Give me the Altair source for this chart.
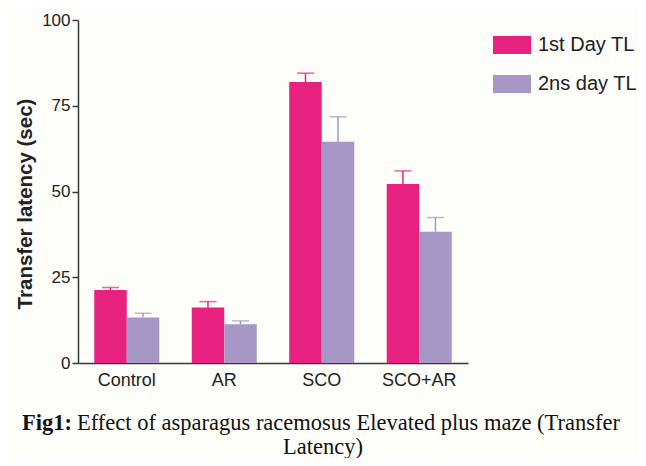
import altair as alt
import pandas as pd

groups = ["Control", "AR", "SCO", "SCO+AR"]
series = ["1st Day TL", "2ns day TL"]
day1 = [21.3, 16.2, 81.9, 52.2]
day1_err = [22.0, 17.9, 84.5, 56.0]
day2 = [13.3, 11.3, 64.5, 38.3]
day2_err = [14.5, 12.3, 71.8, 42.4]
colors = ["#e6217f", "#a797c6"]

rows = []
for i, g in enumerate(groups):
    rows.append({"group": g, "series": series[0], "value": day1[i], "err": day1_err[i]})
    rows.append({"group": g, "series": series[1], "value": day2[i], "err": day2_err[i]})
df = pd.DataFrame(rows)

xenc = alt.X("group:N", sort=groups, title=None,
             scale=alt.Scale(paddingInner=0.333, paddingOuter=0.167),
             axis=alt.Axis(labelAngle=0, labelFontSize=18, labelFont="Liberation Sans",
                           labelColor="#222", ticks=False, domainColor="#3a3a3a",
                           domainWidth=1.5, labelPadding=8))
xoff = alt.XOffset("series:N", sort=series, scale=alt.Scale(paddingInner=0, paddingOuter=0))
yscale = alt.Scale(domain=[0, 100], nice=False)
color = alt.Color("series:N", sort=series, scale=alt.Scale(domain=series, range=colors),
                  legend=alt.Legend(title=None, orient="none", legendX=415, legendY=6,
                                    symbolType="M-1,-0.47L1,-0.47L1,0.47L-1,0.47Z",
                                    symbolSize=1444, symbolStrokeWidth=0,
                                    labelFontSize=20, labelFont="Liberation Sans",
                                    labelColor="#222", rowPadding=10, labelOffset=7))

base = alt.Chart(df)

bars = base.mark_bar(width=32.5).encode(
    x=xenc, xOffset=xoff,
    y=alt.Y("value:Q", scale=yscale, title="Transfer latency (sec)",
            axis=alt.Axis(values=[0, 25, 50, 75, 100], grid=False, labelFontSize=17,
                          labelFont="Liberation Sans", labelColor="#222",
                          tickSize=6, tickColor="#3a3a3a", tickWidth=1.5,
                          domainColor="#3a3a3a", domainWidth=1.5, labelPadding=2,
                          titleFontSize=20.5, titleFont="Liberation Sans", titleFontWeight="bold",
                          titleColor="#222", titleX=-47, titleY=183.5,
                          titleBaseline="alphabetic", titleAngle=270)),
    color=color,
)

errs = base.mark_rule(strokeWidth=1.5).encode(
    x=alt.X("group:N", sort=groups), xOffset=xoff,
    y=alt.Y("value:Q", scale=yscale), y2="err:Q",
    color=alt.Color("series:N", sort=series, scale=alt.Scale(domain=series, range=colors), legend=None),
)
caps = base.mark_tick(size=17, thickness=1.5).encode(
    x=alt.X("group:N", sort=groups), xOffset=xoff,
    y=alt.Y("err:Q", scale=yscale),
    color=alt.Color("series:N", sort=series, scale=alt.Scale(domain=series, range=colors), legend=None),
)

cap_df = pd.DataFrame({"t": [0]})
fig_lbl = alt.Chart(cap_df).mark_text(align="left", baseline="alphabetic", font="Liberation Serif",
                                      fontSize=22.5, fontWeight="bold", color="#111").encode(
    x=alt.value(-56), y=alt.value(410), text=alt.value("Fig1:"))
line1 = alt.Chart(cap_df).mark_text(align="left", baseline="alphabetic", font="Liberation Serif",
                                    fontSize=22.5, color="#111").encode(
    x=alt.value(-1), y=alt.value(410),
    text=alt.value("Effect of asparagus racemosus Elevated plus maze (Transfer"))
line2 = alt.Chart(cap_df).mark_text(align="center", baseline="alphabetic", font="Liberation Serif",
                                    fontSize=22.5, color="#111").encode(
    x=alt.value(245), y=alt.value(434), text=alt.value("Latency)"))

chart = alt.layer(bars, errs, caps, fig_lbl, line1, line2).properties(
    width=390, height=343,
    autosize=alt.AutoSizeParams(type="none"),
    padding={"left": 70, "top": 12, "right": 170, "bottom": 95},
    background="#fdfdf9",
).configure_view(stroke=None)

chart.save("out.html", embed_options={"renderer": "svg", "actions": False})
